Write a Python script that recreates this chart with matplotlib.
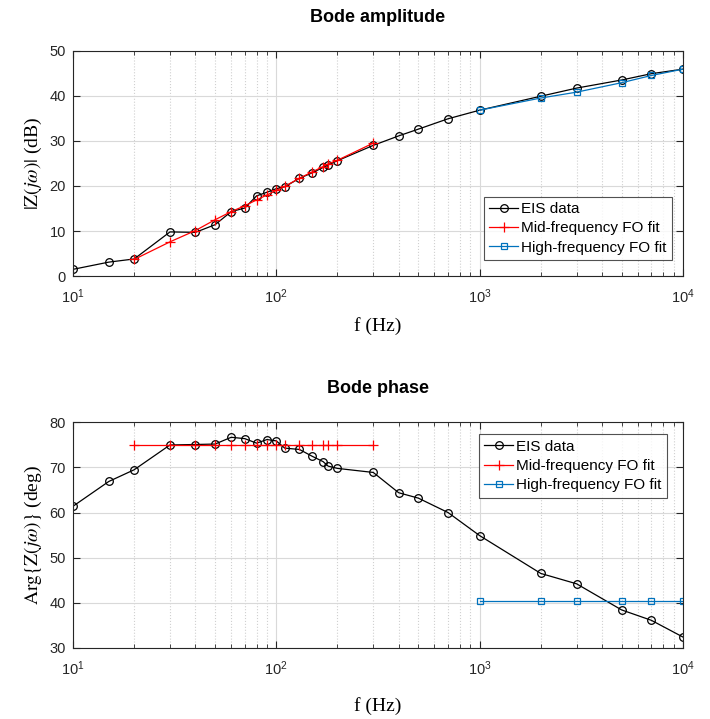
import matplotlib
matplotlib.use("Agg")
import matplotlib.pyplot as plt
from matplotlib.ticker import LogLocator, NullFormatter

# frequencies (Hz)
freq = [10, 15, 20, 30, 40, 50, 60, 70, 80, 90, 100, 110, 130, 150, 170, 180,
        200, 300, 400, 500, 700, 1000, 2000, 3000, 5000, 7000, 10000]
freq_mid = [20, 30, 40, 50, 60, 70, 80, 90, 100, 110, 130, 150, 170, 180, 200, 300]
freq_high = [1000, 2000, 3000, 5000, 7000, 10000]

# amplitude (dB)
amp_eis = [1.5, 3.1, 3.8, 9.8, 9.7, 11.4, 14.3, 15.1, 17.8, 18.6, 19.4, 19.8,
           21.7, 22.9, 24.1, 24.7, 25.6, 29.0, 31.1, 32.6, 34.9, 36.8, 39.9,
           41.7, 43.5, 44.9, 45.9]
amp_mid = [3.7, 7.6, 10.1, 12.5, 14.3, 15.6, 16.9, 18.0, 19.0, 19.9, 21.7,
           23.1, 24.3, 24.9, 25.7, 29.5]
amp_high = [36.8, 39.5, 40.8, 42.9, 44.5, 45.9]

# phase (deg)
ph_eis = [61.4, 66.9, 69.5, 75.0, 75.1, 75.2, 76.7, 76.4, 75.4, 76.2, 75.9,
          74.3, 74.0, 72.5, 71.3, 70.3, 69.8, 68.9, 64.4, 63.2, 60.0, 54.9,
          46.5, 44.2, 38.4, 36.1, 32.4]
ph_mid = [75.0] * len(freq_mid)
ph_high = [40.4] * len(freq_high)

plt.rcParams["font.family"] = ["Liberation Sans", "DejaVu Sans"]
plt.rcParams["mathtext.fontset"] = "stix"

AX_COL = "#262626"
BLUE = "#0072BD"


def style_axes(ax, ylim, yticks):
    ax.set_xscale("log")
    ax.set_xlim(10, 1e4)
    ax.set_ylim(*ylim)
    ax.set_yticks(yticks)
    ax.xaxis.set_minor_locator(LogLocator(base=10, subs=range(2, 10)))
    ax.xaxis.set_minor_formatter(NullFormatter())
    ax.grid(True, which="major", color="#d9d9d9", linewidth=0.8)
    ax.grid(True, which="minor", axis="x", color="#d0d0d0", linestyle=":", linewidth=0.8)
    ax.set_axisbelow(True)
    ax.tick_params(which="both", direction="in", top=True, right=True,
                   colors=AX_COL, labelsize=10.5)
    ax.tick_params(which="major", length=5)
    ax.tick_params(which="minor", length=3)
    ax.tick_params(axis="x", which="major", pad=8)
    ax.tick_params(axis="y", which="major", pad=5)
    for sp in ax.spines.values():
        sp.set_color(AX_COL)
        sp.set_linewidth(0.8)


def draw_lines(ax, f, eis, f_mid, mid, f_high, high):
    ax.plot(f, eis, "-o", color="black", lw=0.9, ms=5.5, mfc="none",
            mew=0.9, label="EIS data")
    ax.plot(f_mid, mid, "-+", color="red", lw=0.9, ms=7, mew=0.9,
            label="Mid-frequency FO fit")
    ax.plot(f_high, high, "-s", color=BLUE, lw=0.9, ms=4, mfc="none",
            mew=0.9, label="High-frequency FO fit")


def add_legend(ax, loc, anchor):
    leg = ax.legend(loc=loc, bbox_to_anchor=anchor, fontsize=11,
                    fancybox=False, edgecolor=AX_COL, handlelength=1.9,
                    borderaxespad=0.0, handletextpad=0.2, labelspacing=0.35,
                    borderpad=0.35)
    leg.get_frame().set_linewidth(0.8)
    return leg


fig = plt.figure(figsize=(7.10, 7.19), dpi=100)

# amplitude plot
ax1 = fig.add_axes([0.1028, 0.6160, 0.859, 0.3135])
style_axes(ax1, (0, 50), range(0, 51, 10))
draw_lines(ax1, freq, amp_eis, freq_mid, amp_mid, freq_high, amp_high)
ax1.set_title("Bode amplitude", fontweight="bold", fontsize=13, pad=21)
ax1.set_xlabel("f (Hz)", family="Liberation Serif", fontsize=14, labelpad=8)
ax1.set_ylabel(r"$|\mathrm{Z}(j\omega)|$ (dB)", family="Liberation Serif",
               fontsize=14, labelpad=4)
add_legend(ax1, "lower right", (0.982, 0.071))

# phase plot
ax2 = fig.add_axes([0.1028, 0.0990, 0.859, 0.3135])
style_axes(ax2, (30, 80), range(30, 81, 10))
draw_lines(ax2, freq, ph_eis, freq_mid, ph_mid, freq_high, ph_high)
ax2.set_title("Bode phase", fontweight="bold", fontsize=13, pad=21)
ax2.set_xlabel("f (Hz)", family="Liberation Serif", fontsize=14, labelpad=14)
ax2.set_ylabel(r"$\mathrm{Arg}\{\mathrm{Z}(j\omega)\}$ (deg)",
               family="Liberation Serif", fontsize=14, labelpad=4)
add_legend(ax2, "upper right", (0.974, 0.947))

fig.savefig("out.png", dpi=100)
